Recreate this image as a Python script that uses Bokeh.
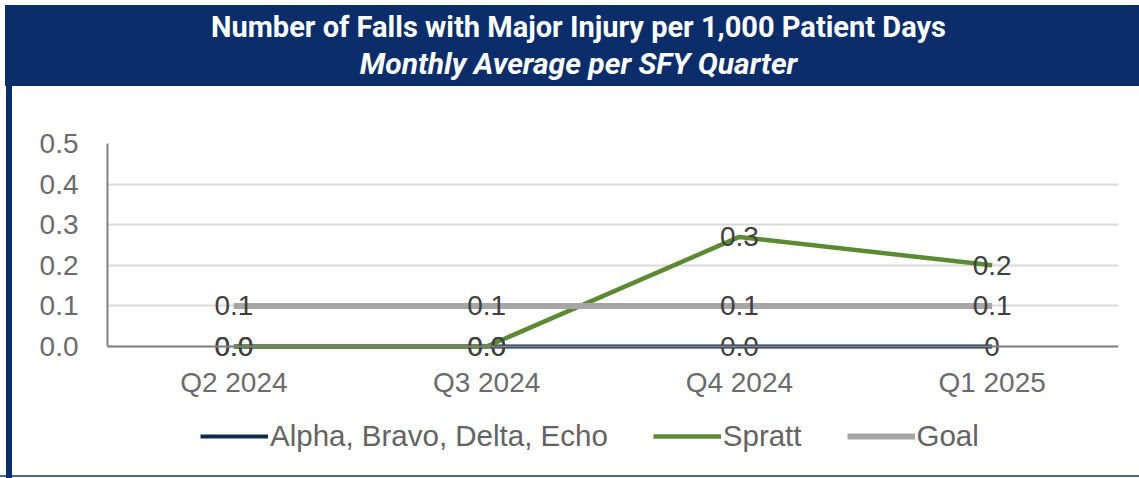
from bokeh.plotting import figure
from bokeh.models import Range1d, FixedTicker, NumeralTickFormatter, Legend, LegendItem, CategoricalAxis
from bokeh.layouts import column
from bokeh.embed import file_html
from bokeh.resources import INLINE
from bokeh.core.properties import value

# ---- data ----
quarters = ["Q2 2024", "Q3 2024", "Q4 2024", "Q1 2025"]
alpha_vals = [0.0, 0.0, 0.0, 0.0]
spratt_vals = [0.0, 0.0, 0.27, 0.2]
goal_vals = [0.1, 0.1, 0.1, 0.1]
alpha_labels = ["0.0", "0.0", "0.0", "0"]
spratt_labels = ["0.0", "0.0", "0.3", "0.2"]
goal_labels = ["0.1", "0.1", "0.1", "0.1"]
y_ticks = [0.0, 0.1, 0.2, 0.3, 0.4, 0.5]
series_names = ["Alpha, Bravo, Delta, Echo", "Spratt", "Goal"]
title_text = "Number of Falls with Major Injury per 1,000 Patient Days"
subtitle_text = "Monthly Average per SFY Quarter"

# ---- styling / layout ----
W = 1139
BANNER_H = 86
CHART_H = 392
FRAME_L, FRAME_R = 107, 21
NAVY = "#0b2e6b"
EDGE = "#4a6896"
C_ALPHA = "#0d2b4e"
C_SPRATT = "#5b8a32"
C_GOAL = "#a6a6a6"
FONT = "Liberation Sans"

banner = figure(width=W, height=BANNER_H, x_range=Range1d(FRAME_L, W - FRAME_R), y_range=Range1d(0, BANNER_H),
                title=None, output_backend="svg", toolbar_location=None,
                x_axis_location=None, y_axis_location=None,
                min_border_left=FRAME_L, min_border_right=FRAME_R, min_border_top=0, min_border_bottom=0,
                background_fill_color=None, border_fill_color=None, outline_line_color=None,
                styles={"background": "linear-gradient(to right, #ffffff 5px, transparent 5px), "
                                      "linear-gradient(to bottom, #ffffff 5px, " + NAVY + " 5px)"})
banner.grid.visible = False
banner.text(x=[578], y=[60], text=[title_text], text_align="center", text_baseline="alphabetic",
            text_color="white", text_font=value("Roboto"), text_font_style="bold", text_font_size="29px")
banner.text(x=[578], y=[23], text=[subtitle_text], text_align="center", text_baseline="alphabetic",
            text_color="white", text_font=value("Roboto"), text_font_style="bold italic", text_font_size="30px")

# y=0 sits 260px below the frame top, 0.5 at the top; frame runs to the bottom of the canvas
p = figure(width=W, height=CHART_H, x_range=quarters, y_range=Range1d(-0.325, 0.5),
           output_backend="svg", toolbar_location=None, x_axis_location=None,
           min_border_left=FRAME_L, min_border_right=FRAME_R, min_border_top=57, min_border_bottom=0,
           outline_line_color=None, background_fill_color=None, border_fill_color=None,
           styles={"background": "linear-gradient(to right, transparent 6px, " + NAVY + " 6px, " + NAVY +
                                 " 12px, transparent 12px), linear-gradient(to top, transparent 1px, " + EDGE +
                                 " 1px, " + EDGE + " 3px, transparent 3px), #ffffff"})

xaxis = CategoricalAxis(fixed_location=0)
p.add_layout(xaxis, "below")

r1 = p.line(quarters, alpha_vals, line_color=C_ALPHA, line_width=4, line_join="round")
r2 = p.line(quarters, spratt_vals, line_color=C_SPRATT, line_width=4.5, line_join="round")
r3 = p.line(quarters, goal_vals, line_color=C_GOAL, line_width=6, line_join="round")

for vals, labs in ((alpha_vals, alpha_labels), (spratt_vals, spratt_labels), (goal_vals, goal_labels)):
    p.text(x=quarters, y=vals, text=labs, text_align="center", text_baseline="middle",
           text_font=value(FONT), text_font_size="28px", text_color="#404040")

p.yaxis.ticker = FixedTicker(ticks=y_ticks)
p.yaxis.formatter = NumeralTickFormatter(format="0.0")
p.yaxis.bounds = (0, 0.5)
p.axis.major_tick_out = 0
p.axis.major_tick_in = 0
p.axis.minor_tick_out = 0
p.axis.minor_tick_in = 0
p.axis.axis_line_color = "#808080"
p.axis.axis_line_width = 2
p.axis.major_label_text_font = FONT
p.axis.major_label_text_font_size = "28px"
p.axis.major_label_text_color = "#6b6b6b"
p.yaxis.major_label_standoff = 29
xaxis.major_label_standoff = 20
p.xgrid.visible = False
p.ygrid.grid_line_color = "#d9d9d9"
p.ygrid.grid_line_width = 2

legend = Legend(items=[LegendItem(label=series_names[0], renderers=[r1]),
                       LegendItem(label=series_names[1], renderers=[r2]),
                       LegendItem(label=series_names[2], renderers=[r3])],
                orientation="horizontal", location=(93, 25),
                glyph_width=68, glyph_height=20, label_standoff=2, spacing=45,
                padding=0, margin=0, border_line_color=None, background_fill_alpha=0,
                label_text_font=FONT, label_text_font_size="29.5px", label_text_color="#636363")
p.add_layout(legend, "center")

layout = column(banner, p, spacing=0)
open("out.html", "w").write(file_html(layout, INLINE))
